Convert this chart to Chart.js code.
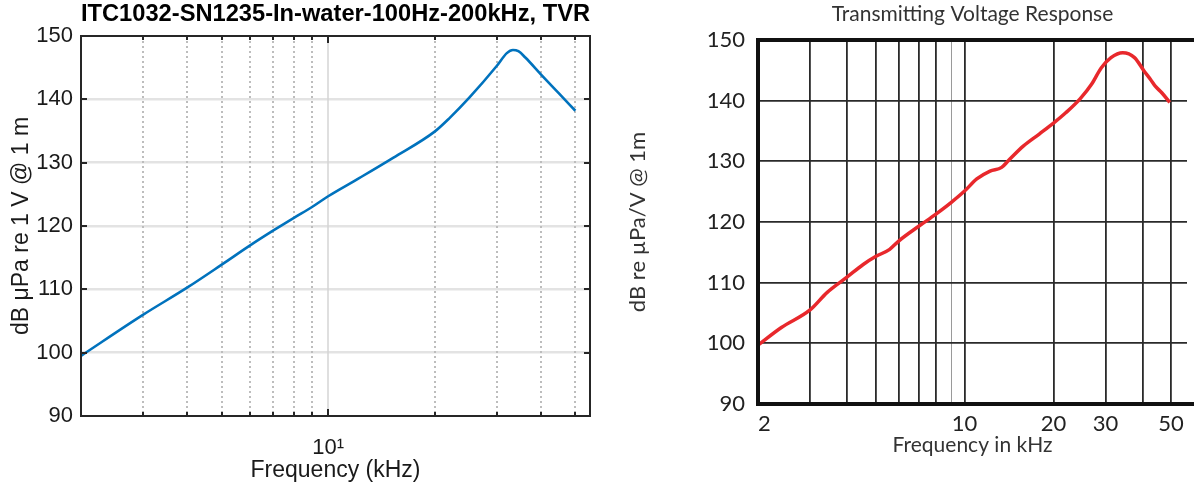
<!DOCTYPE html>
<html>
<head>
<meta charset="utf-8">
<script src="https://cdn.jsdelivr.net/npm/chart.js@4.4.1/dist/chart.umd.min.js"></script>
<style>
  html, body { margin: 0; padding: 0; background: #fff; }
  #wrap { position: relative; width: 1194px; height: 490px; overflow: hidden; }
  #leftChart { position: absolute; left: 0; top: 0; }
  #rightChart { position: absolute; left: 600px; top: 0; }
</style>
</head>
<body>
<div id="wrap">
  <canvas id="leftChart" width="600" height="490"></canvas>
  <canvas id="rightChart" width="594" height="490"></canvas>
</div>
<script>
// Left panel: measured TVR (MATLAB export)
const leftFreq = [2.0, 3, 4, 5, 6, 7, 8, 9, 10, 12.1, 15.3, 20, 22, 25.1, 30, 32, 33.3, 34.5, 36.1, 40, 45, 50];
const leftTvr = [99.5, 106.0, 110.3, 113.9, 116.9, 119.3, 121.3, 123.0, 124.7, 127.4, 130.8, 134.9, 137.0, 140.3, 145.3, 147.3, 147.8, 147.6, 146.6, 143.9, 140.9, 138.2];
const leftMinorTicks = [3, 4, 5, 6, 7, 8, 9, 20, 30, 40, 50]; // dotted grid
const leftMajorTicks = [10];                                  // labelled "10¹"
const leftYTicks = [90, 100, 110, 120, 130, 140, 150];

// Right panel: datasheet curve
const rightFreq = [2.0, 2.4, 3, 3.43, 4, 4.54, 5, 5.58, 6, 7, 8, 9, 10, 11.0, 12.2, 13.35, 14.06, 15.8, 17.9, 20, 22, 24.6, 26.9, 29, 31.3, 34.3, 37.6, 40.5, 42.6, 44.2, 46.5, 49.5];
const rightTvr = [99.7, 102.6, 105.5, 108.4, 110.9, 113.0, 114.3, 115.5, 116.9, 119.3, 121.3, 123.2, 125.1, 127.1, 128.4, 129.0, 130.1, 132.5, 134.5, 136.3, 138.0, 140.3, 142.7, 145.4, 147.1, 147.9, 147.1, 144.9, 143.5, 142.4, 141.3, 139.7];
const rightGridTicks = [2, 3, 4, 5, 6, 7, 8, 9, 10, 20, 30, 40, 50];
const rightTickLabels = ['2', '10', '20', '30', '50'];
const rightYTicks = [90, 100, 110, 120, 130, 140, 150];

const matlabFont = 'Liberation Sans, Arial, Helvetica, sans-serif';
const sheetFont = 'Lato, "Open Sans", sans-serif';

// MATLAB style: dotted minor grid, box with inward ticks
const leftFrame = {
  id: 'leftFrame',
  beforeDatasetsDraw(chart) {
    const { ctx, chartArea: a, scales: { x } } = chart;
    ctx.save();
    ctx.lineWidth = 2;
    ctx.strokeStyle = '#bdbdbd';
    ctx.setLineDash([2, 3]);
    leftMinorTicks.forEach(v => {
      const px = Math.round(x.getPixelForValue(v));
      ctx.beginPath();
      ctx.moveTo(px, a.top);
      ctx.lineTo(px, a.bottom);
      ctx.stroke();
    });
    ctx.setLineDash([]);
    ctx.lineWidth = 1.5;
    ctx.strokeStyle = '#d4d4d4';
    leftMajorTicks.forEach(v => {
      const px = Math.round(x.getPixelForValue(v));
      ctx.beginPath();
      ctx.moveTo(px, a.top);
      ctx.lineTo(px, a.bottom);
      ctx.stroke();
    });
    ctx.restore();
  },
  afterDatasetsDraw(chart) {
    const { ctx, chartArea: a, scales: { x, y } } = chart;
    ctx.save();
    ctx.strokeStyle = '#262626';
    ctx.lineWidth = 2;
    ctx.beginPath();
    leftMinorTicks.concat(leftMajorTicks).forEach(v => {
      const px = Math.round(x.getPixelForValue(v));
      const len = v === 10 ? 7 : 4;
      ctx.moveTo(px, a.bottom); ctx.lineTo(px, a.bottom - len);
      ctx.moveTo(px, a.top); ctx.lineTo(px, a.top + len);
    });
    leftYTicks.slice(1, -1).forEach(v => {
      const py = Math.round(y.getPixelForValue(v));
      ctx.moveTo(a.left, py); ctx.lineTo(a.left + 6, py);
      ctx.moveTo(a.right, py); ctx.lineTo(a.right - 6, py);
    });
    ctx.stroke();
    ctx.strokeRect(a.left, a.top, a.right - a.left, a.bottom - a.top);
    ctx.restore();
  }
};

new Chart(document.getElementById('leftChart'), {
  type: 'line',
  data: {
    datasets: [{
      data: leftFreq.map((f, i) => ({ x: f, y: leftTvr[i] })),
      borderColor: '#0072bd',
      borderWidth: 2.6,
      pointRadius: 0,
      cubicInterpolationMode: 'monotone',
      fill: false
    }]
  },
  options: {
    responsive: false,
    animation: false,
    layout: { padding: { left: 0, right: 10, top: 0, bottom: 0 } },
    plugins: {
      legend: { display: false },
      tooltip: { enabled: false },
      title: {
        display: true,
        fullSize: false,
        text: 'ITC1032-SN1235-In-water-100Hz-200kHz, TVR',
        color: '#000',
        font: { family: matlabFont, size: 24, weight: 'bold' },
        padding: { top: 0, bottom: 7.2 }
      }
    },
    scales: {
      x: {
        type: 'logarithmic',
        min: 2,
        max: 55,
        afterBuildTicks: s => { s.ticks = leftMajorTicks.map(v => ({ value: v })); },
        afterFit: s => { s.height = 74; },
        grid: { display: false },
        border: { display: false },
        ticks: {
          callback: v => (v === 10 ? '10¹' : ''),
          autoSkip: false,
          maxRotation: 0,
          padding: 11,
          color: '#1a1a1a',
          font: { family: matlabFont, size: 22 }
        },
        title: {
          display: true,
          text: 'Frequency (kHz)',
          color: '#1a1a1a',
          font: { family: matlabFont, size: 23 },
          padding: { top: 0, bottom: 6 }
        }
      },
      y: {
        min: 90,
        max: 150,
        afterBuildTicks: s => { s.ticks = leftYTicks.map(v => ({ value: v })); },
        afterFit: s => { s.width = 81; },
        grid: {
          color: c => (c.tick && (c.tick.value === 90 || c.tick.value === 150)) ? 'rgba(0,0,0,0)' : '#e3e3e3',
          lineWidth: 2.5,
          drawTicks: false
        },
        border: { display: false },
        ticks: {
          padding: 8,
          color: '#1a1a1a',
          font: { family: matlabFont, size: 22 }
        },
        title: {
          display: true,
          text: 'dB μPa re 1 V @ 1 m',
          color: '#1a1a1a',
          font: { family: matlabFont, size: 23 },
          padding: { top: 8, bottom: 0 }
        }
      }
    }
  },
  plugins: [leftFrame]
});

// datasheet style: heavy frame on left, top and bottom
const rightFrame = {
  id: 'rightFrame',
  afterDatasetsDraw(chart) {
    const { ctx, chartArea: a, width } = chart;
    ctx.save();
    ctx.strokeStyle = '#111';
    ctx.lineWidth = 4;
    ctx.beginPath();
    ctx.moveTo(width, a.top); ctx.lineTo(a.left, a.top);
    ctx.lineTo(a.left, a.bottom); ctx.lineTo(width, a.bottom);
    ctx.stroke();
    ctx.restore();
  }
};

new Chart(document.getElementById('rightChart'), {
  type: 'line',
  data: {
    datasets: [{
      data: rightFreq.map((f, i) => ({ x: f, y: rightTvr[i] })),
      borderColor: '#e8282c',
      borderWidth: 3.5,
      pointRadius: 0,
      cubicInterpolationMode: 'monotone',
      fill: false
    }]
  },
  options: {
    responsive: false,
    animation: false,
    layout: { padding: 0 },
    plugins: {
      legend: { display: false },
      tooltip: { enabled: false },
      title: {
        display: true,
        fullSize: false,
        text: 'Transmitting Voltage Response',
        color: '#333',
        font: { family: sheetFont, size: 21, weight: 'normal' },
        padding: { top: 2, bottom: 12.8 }
      }
    },
    scales: {
      x: {
        type: 'logarithmic',
        min: 2,
        max: 56.6,
        afterBuildTicks: s => {
          s.ticks = rightGridTicks.map(v => ({ value: v })).concat([{ value: s.max }]);
        },
        afterFit: s => { s.height = 86; },
        grid: {
          color: c => {
            if (!c.tick) return '#2a2a2a';
            const v = c.tick.value;
            if (v === 2 || v > 50) return 'rgba(0,0,0,0)';
            return v === 9 ? '#9a9a9a' : '#2a2a2a';
          },
          lineWidth: c => (c.tick && c.tick.value === 9 ? 1 : 1.8),
          drawTicks: false
        },
        border: { display: false },
        ticks: {
          callback: v => (rightTickLabels.includes(String(v)) ? String(v) : ''),
          align: 'inner',
          autoSkip: false,
          maxRotation: 0,
          padding: 7,
          color: '#222',
          font: { family: sheetFont, size: 22 }
        },
        title: {
          display: true,
          text: 'Frequency in kHz',
          color: '#333',
          font: { family: sheetFont, size: 21 },
          padding: { top: 0, bottom: 32.4 }
        }
      },
      y: {
        min: 90,
        max: 150,
        afterBuildTicks: s => { s.ticks = rightYTicks.map(v => ({ value: v })); },
        afterFit: s => { s.width = 158; },
        grid: {
          color: c => (c.tick && (c.tick.value === 90 || c.tick.value === 150)) ? 'rgba(0,0,0,0)' : '#2a2a2a',
          lineWidth: 1.8,
          drawTicks: false
        },
        border: { display: false },
        ticks: {
          padding: 13,
          color: '#222',
          font: { family: sheetFont, size: 22 }
        },
        title: {
          display: true,
          text: 'dB re µPa/V @ 1m',
          color: '#333',
          font: { family: sheetFont, size: 22 },
          padding: { top: 24.8, bottom: 0 }
        }
      }
    }
  },
  plugins: [rightFrame]
});
</script>
</body>
</html>
